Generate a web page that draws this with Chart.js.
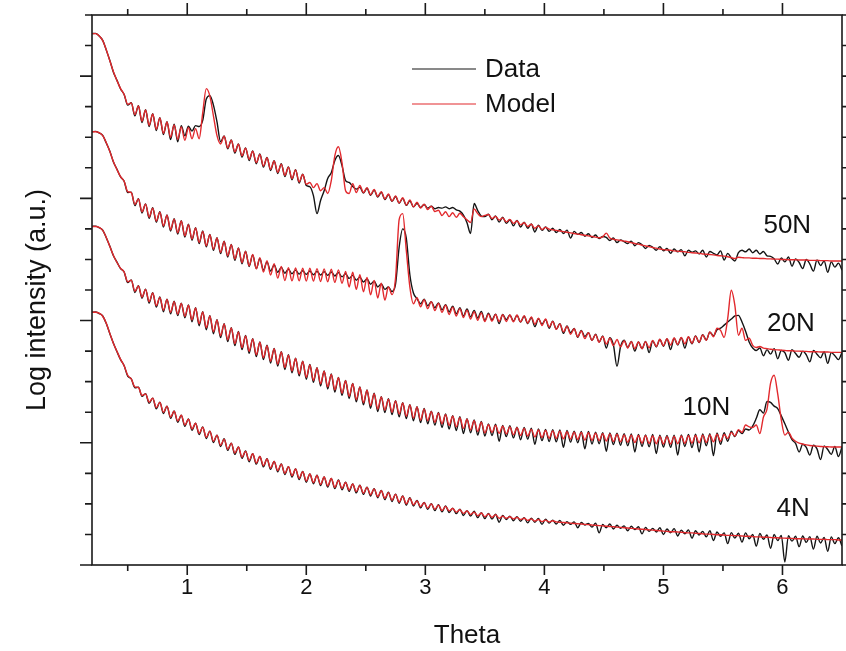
<!DOCTYPE html>
<html>
<head>
<meta charset="utf-8">
<script src="https://cdn.jsdelivr.net/npm/chart.js@4.4.1/dist/chart.umd.min.js"></script>
<style>
  html, body { margin: 0; padding: 0; background: #fff; }
  canvas { display: block; }
</style>
</head>
<body>
<canvas id="xrr" width="846" height="651"></canvas>
<script>
// --- Sampling grid (Theta, deg) ---
const thetaStart = 0.2;
const thetaStep = 0.03;
const theta = Array.from({ length: 211 }, (_, i) => +(thetaStart + i * thetaStep).toFixed(2));

// --- Log intensity, offset per sample (a.u.) ---
const data4N = [
  8.27, 8.28, 8.23, 8.15, 7.90, 7.57, 7.26, 6.98, 6.72, 6.52,
  6.18, 6.09, 5.80, 5.82, 5.52, 5.61, 5.29, 5.46, 5.11, 5.33,
  4.96, 5.20, 4.80, 5.04, 4.67, 4.90, 4.54, 4.78, 4.41, 4.64,
  4.27, 4.52, 4.14, 4.38, 4.01, 4.25, 3.88, 4.13, 3.75, 3.99,
  3.62, 3.86, 3.49, 3.73, 3.38, 3.64, 3.30, 3.55, 3.21, 3.48,
  3.13, 3.39, 3.05, 3.31, 2.96, 3.22, 2.88, 3.14, 2.80, 3.06,
  2.71, 2.98, 2.66, 2.94, 2.60, 2.88, 2.55, 2.83, 2.50, 2.78,
  2.46, 2.71, 2.41, 2.65, 2.36, 2.61, 2.31, 2.55, 2.26, 2.50,
  2.20, 2.44, 2.14, 2.38, 2.08, 2.32, 2.02, 2.26, 1.96, 2.20,
  1.93, 2.11, 1.87, 2.05, 1.82, 2.01, 1.78, 1.97, 1.74, 1.93,
  1.72, 1.86, 1.68, 1.83, 1.62, 1.78, 1.60, 1.76, 1.55, 1.71,
  1.52, 1.69, 1.50, 1.66, 1.40, 1.62, 1.49, 1.60, 1.45, 1.58,
  1.43, 1.55, 1.38, 1.53, 1.40, 1.52, 1.33, 1.50, 1.37, 1.47,
  1.34, 1.46, 1.30, 1.42, 1.33, 1.41, 1.22, 1.39, 1.31, 1.36,
  1.24, 1.37, 1.05, 1.33, 1.22, 1.34, 1.18, 1.30, 1.20, 1.28,
  1.12, 1.27, 1.16, 1.25, 1.02, 1.23, 1.10, 1.20, 1.08, 1.22,
  1.00, 1.18, 1.05, 1.19, 0.95, 1.14, 1.02, 1.15, 0.88, 1.12,
  0.98, 1.10, 0.92, 1.12, 0.80, 1.08, 0.94, 1.05, 0.70, 1.06,
  0.88, 1.04, 0.75, 1.05, 0.86, 1.00, 0.62, 1.03, 0.84, 0.98,
  0.55, 1.00, 0.80, 0.97, 0.10, 0.96, 0.78, 0.94, 0.60, 0.95,
  0.74, 0.93, 0.52, 0.94, 0.72, 0.90, 0.45, 0.92, 0.70, 0.89, 0.62
];
const model4N = [
  8.27, 8.27, 8.24, 8.14, 7.91, 7.58, 7.25, 6.99, 6.73, 6.52,
  6.21, 6.09, 5.83, 5.81, 5.55, 5.60, 5.33, 5.46, 5.15, 5.32,
  5.00, 5.20, 4.84, 5.03, 4.71, 4.90, 4.58, 4.77, 4.45, 4.64,
  4.31, 4.51, 4.18, 4.38, 4.05, 4.25, 3.92, 4.12, 3.79, 3.99,
  3.66, 3.86, 3.53, 3.72, 3.42, 3.64, 3.34, 3.55, 3.25, 3.47,
  3.17, 3.39, 3.09, 3.30, 3.00, 3.22, 2.92, 3.14, 2.84, 3.05,
  2.75, 2.98, 2.70, 2.93, 2.64, 2.88, 2.59, 2.83, 2.54, 2.77,
  2.51, 2.70, 2.45, 2.65, 2.40, 2.60, 2.35, 2.54, 2.30, 2.49,
  2.24, 2.43, 2.18, 2.37, 2.12, 2.31, 2.06, 2.25, 2.00, 2.19,
  1.97, 2.10, 1.91, 2.04, 1.86, 2.00, 1.82, 1.96, 1.78, 1.92,
  1.77, 1.85, 1.73, 1.81, 1.69, 1.77, 1.65, 1.73, 1.61, 1.70,
  1.58, 1.67, 1.56, 1.65, 1.53, 1.60, 1.53, 1.58, 1.51, 1.56,
  1.49, 1.53, 1.46, 1.51, 1.44, 1.49, 1.42, 1.47, 1.41, 1.45,
  1.41, 1.40, 1.39, 1.38, 1.37, 1.36, 1.35, 1.34, 1.33, 1.32,
  1.31, 1.30, 1.29, 1.28, 1.27, 1.26, 1.25, 1.24, 1.23, 1.22,
  1.21, 1.20, 1.19, 1.18, 1.17, 1.16, 1.15, 1.14, 1.13, 1.12,
  1.11, 1.10, 1.09, 1.09, 1.08, 1.07, 1.06, 1.05, 1.05, 1.04,
  1.03, 1.02, 1.01, 1.01, 1.00, 0.99, 0.99, 0.98, 0.97, 0.97,
  0.96, 0.96, 0.95, 0.94, 0.94, 0.93, 0.92, 0.92, 0.91, 0.91,
  0.90, 0.89, 0.89, 0.88, 0.88, 0.87, 0.87, 0.86, 0.86, 0.86,
  0.85, 0.85, 0.85, 0.84, 0.84, 0.84, 0.83, 0.83, 0.83, 0.82, 0.82
];
const data10N = [
  11.08, 11.09, 11.04, 10.96, 10.71, 10.43, 10.12, 9.91, 9.70, 9.59,
  9.24, 9.33, 8.92, 9.14, 8.73, 9.03, 8.57, 8.91, 8.44, 8.77,
  8.29, 8.70, 8.22, 8.63, 8.16, 8.57, 8.09, 8.51, 7.96, 8.42,
  7.83, 8.29, 7.70, 8.16, 7.57, 8.03, 7.44, 7.90, 7.31, 7.77,
  7.18, 7.64, 7.05, 7.51, 6.93, 7.41, 6.82, 7.30, 6.72, 7.19,
  6.61, 7.09, 6.51, 6.98, 6.40, 6.88, 6.29, 6.77, 6.19, 6.67,
  6.08, 6.56, 5.98, 6.46, 5.86, 6.35, 5.76, 6.25, 5.66, 6.14,
  5.55, 6.04, 5.45, 5.94, 5.34, 5.83, 5.24, 5.73, 5.13, 5.62,
  5.02, 5.51, 4.99, 5.44, 4.92, 5.38, 4.85, 5.31, 4.79, 5.25,
  4.72, 5.18, 4.66, 5.12, 4.62, 5.03, 4.58, 4.99, 4.50, 4.94,
  4.45, 4.89, 4.40, 4.85, 4.30, 4.79, 4.33, 4.75, 4.25, 4.70,
  4.22, 4.62, 4.24, 4.61, 4.05, 4.57, 4.20, 4.56, 4.16, 4.51,
  4.10, 4.50, 4.12, 4.48, 3.95, 4.45, 4.07, 4.44, 4.04, 4.43,
  4.03, 4.42, 3.85, 4.40, 4.02, 4.38, 4.00, 4.37, 3.80, 4.37,
  3.96, 4.35, 3.97, 4.33, 3.72, 4.32, 3.94, 4.31, 3.92, 4.30,
  3.90, 4.29, 3.70, 4.27, 3.88, 4.26, 3.87, 4.27, 3.65, 4.25,
  3.86, 4.24, 3.85, 4.25, 3.60, 4.26, 3.88, 4.27, 3.84, 4.28,
  3.70, 4.29, 3.90, 4.30, 3.58, 4.32, 3.95, 4.33, 4.05, 4.38,
  4.20, 4.40, 4.30, 4.45, 4.42, 4.55, 4.80, 5.08, 4.97, 5.35,
  5.32, 5.20, 5.12, 4.88, 4.62, 4.35, 4.10, 3.98, 3.70, 3.95,
  3.85, 3.60, 3.92, 3.80, 3.45, 3.90, 3.78, 3.62, 3.88, 3.55, 3.86
];
const model10N = [
  11.08, 11.08, 11.05, 10.95, 10.72, 10.42, 10.13, 9.90, 9.71, 9.59,
  9.27, 9.32, 8.96, 9.13, 8.77, 9.02, 8.62, 8.90, 8.49, 8.76,
  8.34, 8.69, 8.27, 8.62, 8.21, 8.56, 8.14, 8.50, 8.02, 8.41,
  7.89, 8.28, 7.76, 8.15, 7.63, 8.02, 7.50, 7.89, 7.37, 7.76,
  7.24, 7.63, 7.11, 7.50, 6.99, 7.40, 6.88, 7.29, 6.78, 7.18,
  6.67, 7.08, 6.57, 6.97, 6.46, 6.87, 6.35, 6.76, 6.25, 6.66,
  6.14, 6.55, 6.04, 6.45, 5.93, 6.34, 5.83, 6.24, 5.73, 6.13,
  5.62, 6.03, 5.52, 5.93, 5.41, 5.82, 5.31, 5.72, 5.21, 5.61,
  5.10, 5.50, 5.07, 5.43, 5.00, 5.37, 4.94, 5.30, 4.87, 5.24,
  4.81, 5.17, 4.74, 5.11, 4.72, 5.02, 4.67, 4.97, 4.62, 4.92,
  4.57, 4.87, 4.52, 4.82, 4.47, 4.77, 4.42, 4.72, 4.37, 4.67,
  4.32, 4.59, 4.34, 4.57, 4.31, 4.54, 4.29, 4.52, 4.26, 4.49,
  4.24, 4.47, 4.22, 4.44, 4.19, 4.42, 4.17, 4.40, 4.15, 4.39,
  4.14, 4.38, 4.13, 4.36, 4.12, 4.35, 4.11, 4.34, 4.09, 4.33,
  4.08, 4.31, 4.07, 4.30, 4.06, 4.29, 4.04, 4.28, 4.03, 4.26,
  4.02, 4.25, 4.01, 4.24, 3.99, 4.23, 3.98, 4.22, 3.97, 4.21,
  3.96, 4.20, 3.96, 4.21, 3.97, 4.22, 3.98, 4.23, 3.99, 4.24,
  4.00, 4.25, 4.01, 4.26, 4.03, 4.28, 4.05, 4.27, 4.14, 4.34,
  4.22, 4.43, 4.34, 4.58, 4.52, 4.50, 4.58, 4.30, 4.84, 5.10,
  5.95, 6.21, 5.60, 4.75, 4.25, 4.35, 4.15, 4.05, 3.99, 3.96,
  3.93, 3.91, 3.90, 3.89, 3.88, 3.87, 3.87, 3.86, 3.86, 3.86, 3.86
];
const data20N = [
  14.18, 14.19, 14.14, 14.06, 13.81, 13.54, 13.19, 12.95, 12.70, 12.56,
  12.19, 12.20, 11.76, 11.99, 11.52, 11.82, 11.35, 11.69, 11.22, 11.56,
  11.06, 11.46, 10.93, 11.33, 10.83, 11.27, 10.73, 11.15, 10.63, 11.04,
  10.52, 10.93, 10.41, 10.82, 10.30, 10.71, 10.19, 10.60, 10.08, 10.49,
  9.97, 10.38, 9.86, 10.27, 9.77, 10.15, 9.70, 10.03, 9.65, 9.92,
  9.62, 9.82, 9.58, 9.74, 9.55, 9.68, 9.53, 9.65, 9.52, 9.63,
  9.51, 9.62, 9.50, 9.61, 9.49, 9.60, 9.48, 9.59, 9.46, 9.57,
  9.43, 9.53, 9.38, 9.48, 9.32, 9.42, 9.26, 9.36, 9.19, 9.29,
  9.10, 9.20, 9.02, 9.10, 8.95, 9.20, 10.40, 11.00, 10.70, 9.50,
  8.90, 8.72, 8.55, 8.70, 8.48, 8.62, 8.42, 8.58, 8.35, 8.52,
  8.28, 8.47, 8.22, 8.42, 8.15, 8.38, 8.12, 8.33, 8.08, 8.30,
  8.00, 8.24, 8.02, 8.21, 7.90, 8.20, 8.03, 8.18, 7.98, 8.17,
  7.95, 8.14, 7.90, 8.10, 7.80, 8.06, 7.88, 8.03, 7.75, 7.98,
  7.72, 7.90, 7.58, 7.82, 7.60, 7.74, 7.45, 7.68, 7.48, 7.60,
  7.35, 7.55, 7.30, 7.50, 7.10, 7.44, 7.20, 6.50, 7.15, 7.36,
  7.12, 7.32, 7.00, 7.30, 7.08, 7.32, 6.95, 7.34, 7.14, 7.38,
  7.16, 7.40, 7.05, 7.42, 7.20, 7.44, 7.10, 7.46, 7.24, 7.50,
  7.28, 7.54, 7.36, 7.62, 7.50, 7.70, 7.75, 7.85, 7.95, 8.05,
  8.15, 8.17, 7.95, 7.65, 7.30, 7.10, 7.02, 7.10, 6.85, 7.05,
  6.90, 7.08, 6.75, 7.02, 6.95, 6.70, 7.05, 6.92, 6.80, 7.00,
  6.88, 6.65, 7.02, 6.90, 6.78, 6.98, 6.60, 6.95, 6.85, 6.72, 6.96
];
const model20N = [
  14.18, 14.18, 14.15, 14.05, 13.82, 13.53, 13.20, 12.94, 12.71, 12.56,
  12.22, 12.19, 11.80, 11.98, 11.56, 11.81, 11.39, 11.68, 11.26, 11.55,
  11.10, 11.45, 10.97, 11.32, 10.87, 11.26, 10.77, 11.14, 10.67, 11.03,
  10.56, 10.92, 10.45, 10.81, 10.34, 10.70, 10.23, 10.59, 10.12, 10.48,
  10.01, 10.37, 9.90, 10.26, 9.79, 10.16, 9.69, 10.06, 9.59, 9.96,
  9.49, 9.86, 9.39, 9.77, 9.31, 9.73, 9.30, 9.72, 9.30, 9.71,
  9.29, 9.71, 9.29, 9.70, 9.28, 9.69, 9.27, 9.68, 9.25, 9.66,
  9.22, 9.61, 9.10, 9.58, 9.02, 9.50, 8.94, 9.41, 8.84, 9.31,
  8.74, 9.22, 8.67, 9.10, 8.85, 9.40, 11.30, 11.50, 10.30, 9.10,
  8.55, 8.75, 8.45, 8.68, 8.39, 8.62, 8.33, 8.56, 8.27, 8.50,
  8.20, 8.44, 8.15, 8.39, 8.10, 8.34, 8.05, 8.29, 8.01, 8.25,
  7.97, 8.21, 7.98, 8.20, 7.97, 8.19, 7.97, 8.18, 7.96, 8.18,
  7.96, 8.16, 7.92, 8.12, 7.88, 8.08, 7.84, 8.05, 7.79, 7.97,
  7.71, 7.89, 7.63, 7.81, 7.55, 7.73, 7.47, 7.66, 7.41, 7.60,
  7.35, 7.54, 7.29, 7.48, 7.23, 7.42, 7.18, 7.38, 7.14, 7.34,
  7.10, 7.31, 7.08, 7.30, 7.08, 7.31, 7.11, 7.35, 7.15, 7.39,
  7.18, 7.41, 7.20, 7.43, 7.22, 7.45, 7.24, 7.47, 7.26, 7.49,
  7.29, 7.53, 7.35, 7.63, 7.47, 7.75, 7.68, 7.45, 8.07, 8.99,
  8.50, 7.52, 7.75, 7.35, 7.42, 7.19, 7.12, 7.15, 7.10, 7.08,
  7.06, 7.05, 7.04, 7.03, 7.02, 7.01, 7.01, 7.00, 7.00, 6.99,
  6.99, 6.98, 6.98, 6.98, 6.97, 6.97, 6.97, 6.96, 6.96, 6.96, 6.96
];
const data50N = [
  17.39, 17.40, 17.31, 17.17, 16.85, 16.51, 16.13, 15.86, 15.58, 15.40,
  15.05, 15.13, 14.70, 15.03, 14.48, 14.90, 14.35, 14.77, 14.22, 14.64,
  14.09, 14.51, 13.92, 14.43, 13.85, 14.38, 14.05, 14.36, 14.20, 14.38,
  14.35, 14.55, 15.25, 15.36, 15.05, 14.50, 13.85, 14.04, 13.62, 13.91,
  13.48, 13.78, 13.35, 13.65, 13.24, 13.55, 13.13, 13.45, 13.02, 13.34,
  12.91, 13.23, 12.81, 13.13, 12.71, 13.03, 12.61, 12.94, 12.50, 12.79,
  12.42, 12.38, 12.09, 11.50, 11.93, 12.25, 12.65, 12.84, 13.24, 13.40,
  13.07, 12.58, 12.52, 12.39, 12.30, 12.36, 12.17, 12.33, 12.10, 12.27,
  12.04, 12.20, 11.96, 12.12, 11.90, 12.06, 11.84, 12.00, 11.77, 11.92,
  11.72, 11.84, 11.70, 11.80, 11.68, 11.74, 11.66, 11.70, 11.68, 11.72,
  11.66, 11.70, 11.62, 11.58, 11.45, 11.20, 10.85, 11.83, 11.60, 11.42,
  11.40, 11.48, 11.30, 11.42, 11.22, 11.38, 11.18, 11.30, 11.10, 11.28,
  11.06, 11.22, 11.02, 11.16, 10.90, 11.12, 10.95, 11.06, 10.92, 11.02,
  10.88, 10.98, 10.85, 10.96, 10.70, 10.92, 10.82, 10.88, 10.76, 10.84,
  10.72, 10.80, 10.68, 10.75, 10.72, 10.62, 10.70, 10.55, 10.64, 10.58,
  10.52, 10.60, 10.45, 10.55, 10.48, 10.36, 10.46, 10.40, 10.30, 10.42,
  10.28, 10.36, 10.20, 10.34, 10.25, 10.32, 10.12, 10.30, 10.24, 10.28,
  10.18, 10.30, 10.08, 10.26, 10.20, 10.15, 10.28, 9.98, 10.20, 10.05,
  9.95, 10.22, 10.30, 10.25, 10.34, 10.22, 10.30, 10.18, 10.26, 10.12,
  10.10, 10.02, 9.85, 10.05, 9.92, 10.08, 9.78, 10.02, 9.90, 9.70,
  10.00, 9.85, 9.62, 9.98, 9.80, 9.95, 9.58, 9.92, 9.75, 9.88, 9.65
];
const model50N = [
  17.39, 17.39, 17.32, 17.16, 16.86, 16.50, 16.14, 15.85, 15.59, 15.40,
  15.08, 15.12, 14.74, 15.02, 14.52, 14.89, 14.39, 14.76, 14.26, 14.63,
  14.13, 14.50, 14.00, 14.40, 13.93, 14.34, 13.90, 14.32, 13.95, 14.28,
  13.95, 14.80, 15.59, 15.35, 14.70, 14.05, 13.78, 14.03, 13.65, 13.90,
  13.52, 13.77, 13.39, 13.64, 13.28, 13.54, 13.17, 13.44, 13.06, 13.33,
  12.95, 13.22, 12.85, 13.12, 12.75, 13.02, 12.65, 12.93, 12.54, 12.78,
  12.46, 12.52, 12.35, 12.48, 12.25, 12.35, 12.16, 12.58, 13.40, 13.69,
  13.17, 12.25, 12.16, 12.48, 12.19, 12.42, 12.19, 12.35, 12.12, 12.29,
  12.06, 12.22, 11.98, 12.14, 11.91, 12.08, 11.85, 12.02, 11.78, 11.95,
  11.72, 11.87, 11.68, 11.81, 11.63, 11.74, 11.57, 11.61, 11.44, 11.56,
  11.40, 11.53, 11.38, 11.51, 11.40, 11.30, 11.21, 11.65, 11.50, 11.40,
  11.44, 11.47, 11.34, 11.41, 11.29, 11.36, 11.23, 11.31, 11.18, 11.26,
  11.13, 11.20, 11.08, 11.15, 11.02, 11.10, 10.98, 11.05, 10.99, 10.97,
  10.95, 10.93, 10.91, 10.89, 10.87, 10.85, 10.83, 10.81, 10.79, 10.77,
  10.75, 10.73, 10.71, 10.74, 10.86, 10.70, 10.66, 10.64, 10.62, 10.60,
  10.58, 10.55, 10.52, 10.50, 10.47, 10.44, 10.42, 10.39, 10.37, 10.34,
  10.32, 10.31, 10.30, 10.28, 10.27, 10.26, 10.25, 10.23, 10.22, 10.21,
  10.20, 10.18, 10.17, 10.16, 10.15, 10.13, 10.12, 10.11, 10.09, 10.06,
  10.03, 10.07, 10.06, 10.05, 10.05, 10.04, 10.04, 10.03, 10.03, 10.02,
  10.02, 10.01, 10.01, 10.00, 10.00, 9.99, 9.99, 9.99, 9.98, 9.98,
  9.98, 9.97, 9.97, 9.97, 9.96, 9.96, 9.96, 9.95, 9.95, 9.95, 9.95
];

// --- Axis ticks ---
const xMajorTicks = [1, 2, 3, 4, 5, 6];
const xMinorTicks = [0.5, 1.5, 2.5, 3.5, 4.5, 5.5];
const yTicks = [0, 1, 2, 3, 4, 5, 6, 7, 8, 9, 10, 11, 12, 13, 14, 15, 16, 17, 18];
const yMajorEvery = 4;

// --- Sample names and where they are written (data coordinates) ---
const sampleNames = ['50N', '20N', '10N', '4N'];
const sampleLabelAt = [[5.84, 11.11], [5.87, 7.88], [5.16, 5.13], [5.95, 1.83]];

const dataColor = '#141414';
const modelColor = '#e2292d';
const fontFamily = "'Liberation Sans', Arial, Helvetica, sans-serif";

const lineStyle = (label, values, color, order) => ({
    label: label,
    data: values,
    borderColor: color,
    backgroundColor: color,
    borderWidth: 1.4,
    pointRadius: 0,
    cubicInterpolationMode: 'monotone',
    order: order
});

// Frame, inner/outer ticks, legend and sample labels
const decorations = {
    id: 'decorations',
    afterDraw(chart) {
        const { ctx, chartArea: a, scales: { x, y } } = chart;
        ctx.save();
        ctx.strokeStyle = '#1a1a1a';
        ctx.lineWidth = 1.6;
        ctx.strokeRect(a.left, a.top, a.right - a.left, a.bottom - a.top);

        ctx.beginPath();
        xMajorTicks.forEach(v => {
            const px = x.getPixelForValue(v);
            ctx.moveTo(px, a.bottom); ctx.lineTo(px, a.bottom + 10);
            ctx.moveTo(px, a.top); ctx.lineTo(px, a.top - 12);
        });
        xMinorTicks.forEach(v => {
            const px = x.getPixelForValue(v);
            ctx.moveTo(px, a.bottom); ctx.lineTo(px, a.bottom + 6);
            ctx.moveTo(px, a.top); ctx.lineTo(px, a.top - 6);
        });
        yTicks.forEach(v => {
            const py = y.getPixelForValue(v);
            const len = v % yMajorEvery === 0 ? 12 : 7;
            ctx.moveTo(a.left, py); ctx.lineTo(a.left - len, py);
            ctx.moveTo(a.right, py); ctx.lineTo(a.right + len, py);
        });
        ctx.stroke();

        // axis title (vertical)
        ctx.fillStyle = '#111';
        ctx.font = '27px ' + fontFamily;
        ctx.textAlign = 'center';
        ctx.textBaseline = 'middle';
        ctx.translate(38, (a.top + a.bottom) / 2 + 10);
        ctx.rotate(-Math.PI / 2);
        ctx.fillText('Log intensity (a.u.)', 0, 0);
        ctx.setTransform(1, 0, 0, 1, 0, 0);

        // legend
        const legend = [['Data', dataColor], ['Model', modelColor]];
        ctx.font = '26px ' + fontFamily;
        ctx.textAlign = 'left';
        legend.forEach(([text, color], k) => {
            const ly = a.top + 54 + k * 35;
            ctx.strokeStyle = color;
            ctx.lineWidth = 1.2;
            ctx.beginPath();
            ctx.moveTo(a.left + 320, ly);
            ctx.lineTo(a.left + 384, ly);
            ctx.stroke();
            ctx.fillStyle = '#111';
            ctx.fillText(text, a.left + 393, ly + 1);
        });

        // sample names
        sampleNames.forEach((name, k) => {
            const [tx, ty] = sampleLabelAt[k];
            ctx.fillText(name, x.getPixelForValue(tx), y.getPixelForValue(ty));
        });
        ctx.restore();
    }
};

new Chart(document.getElementById('xrr'), {
    type: 'line',
    data: {
        labels: theta,
        datasets: [
            lineStyle('Model 50N', model50N, modelColor, 0),
            lineStyle('Model 20N', model20N, modelColor, 0),
            lineStyle('Model 10N', model10N, modelColor, 0),
            lineStyle('Model 4N', model4N, modelColor, 0),
            lineStyle('Data 50N', data50N, dataColor, 1),
            lineStyle('Data 20N', data20N, dataColor, 1),
            lineStyle('Data 10N', data10N, dataColor, 1),
            lineStyle('Data 4N', data4N, dataColor, 1)
        ]
    },
    options: {
        responsive: false,
        animation: false,
        layout: { padding: { top: 15, right: 4, left: 0, bottom: 0 } },
        plugins: {
            legend: { display: false },
            tooltip: { enabled: false }
        },
        scales: {
            x: {
                type: 'linear',
                min: 0.2,
                max: 6.5,
                grid: { display: false, drawTicks: false },
                border: { display: false },
                afterBuildTicks: scale => { scale.ticks = xMajorTicks.map(v => ({ value: v })); },
                afterFit: scale => { scale.height = 86; },
                ticks: {
                    padding: 10,
                    color: '#111',
                    font: { family: fontFamily, size: 22 },
                    maxRotation: 0
                },
                title: {
                    display: true,
                    text: 'Theta',
                    color: '#111',
                    font: { family: fontFamily, size: 26, lineHeight: 1.2 },
                    padding: { top: 0, bottom: 0 }
                }
            },
            y: {
                type: 'linear',
                min: 0,
                max: 18,
                grid: { display: false, drawTicks: false },
                border: { display: false },
                ticks: { display: false },
                afterFit: scale => { scale.width = 92; }
            }
        }
    },
    plugins: [decorations]
});
</script>
</body>
</html>
